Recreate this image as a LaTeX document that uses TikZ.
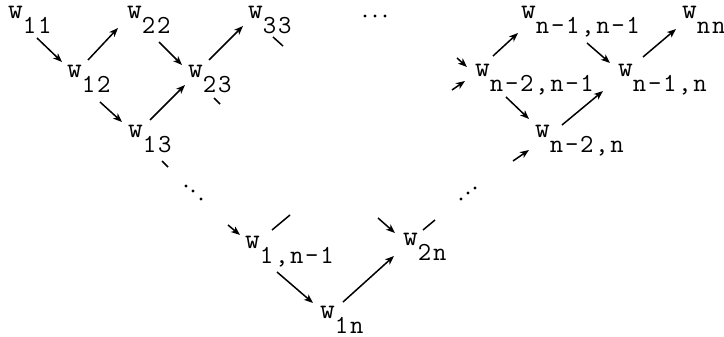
\documentclass[tikz,border=0pt]{standalone}
\usepackage{fontspec}
\newfontfamily\tw[LetterSpace=6.5]{Latin Modern Mono}
\usetikzlibrary{arrows.meta}
\newcommand\wsub[1]{\scalebox{1.1}{w}\raisebox{-15pt}{#1}}
\begin{document}
\begin{tikzpicture}[x=1pt,y=-1pt,
  lab/.style={anchor=base west,inner sep=0pt,font=\fontsize{26}{30}\selectfont\tw},
  arr/.style={line width=1.5pt,-{Stealth[length=9pt,width=7pt,inset=2.5pt]}},
  stub/.style={line width=1.5pt},
  dot/.style={circle,fill,inner sep=0pt,minimum size=3.2pt}]
\useasboundingbox (0,0) rectangle (724,337);
% nodes
\node[lab] (w11) at (8,19) {\wsub{11}};
\node[lab] (w12) at (67,78) {\wsub{12}};
\node[lab] (w22) at (127,19) {\wsub{22}};
\node[lab] (w23) at (188,78) {\wsub{23}};
\node[lab] (w13) at (128,138) {\wsub{13}};
\node[lab] (w33) at (248,19) {\wsub{33}};
\node[lab] (wa) at (521,19) {\wsub{n-1,n-1}};
\node[lab] (wnn) at (682,19) {\wsub{nn}};
\node[lab] (wb) at (475,77) {\wsub{n-2,n-1}};
\node[lab] (wc) at (618,77) {\wsub{n-1,n}};
\node[lab] (wd) at (535,138) {\wsub{n-2,n}};
\node[lab] (we) at (245,248) {\wsub{1,n-1}};
\node[lab] (w1n) at (320,318) {\wsub{1n}};
\node[lab] (w2n) at (403,245) {\wsub{2n}};
% dots
\node[dot] (t1) at (365,16) {};
\node[dot] (t2) at (375,16) {};
\node[dot] (t3) at (385,16) {};
\node[dot] (l1) at (186,186) {};
\node[dot] (l2) at (193,191) {};
\node[dot] (l3) at (201,199) {};
\node[dot] (r1) at (461,199) {};
\node[dot] (r2) at (468,193) {};
\node[dot] (r3) at (475,188) {};
% arrows
\draw[arr] ([shift={(29,19)}]w11.base west) -- ([shift={(-5,-16)}]w12.base west);
\draw[arr] ([shift={(21,-18)}]w12.base west) -- ([shift={(-9,9)}]w22.base west);
\draw[arr] ([shift={(32,23)}]w22.base west) -- ([shift={(-6,-13)}]w23.base west);
\draw[arr] ([shift={(33,24)}]w12.base west) -- ([shift={(-6,-16)}]w13.base west);
\draw[arr] ([shift={(22,-18)}]w13.base west) -- ([shift={(-3,7)}]w23.base west);
\draw[arr] ([shift={(21,-18)}]w23.base west) -- ([shift={(-5,7)}]w33.base west);
\draw[stub] ([shift={(25,18)}]w33.base west) -- ([shift={(35,27)}]w33.base west);
\draw[stub] ([shift={(26,20)}]w23.base west) -- ([shift={(32,26)}]w23.base west);
\draw[stub] ([shift={(34,23)}]w13.base west) -- ([shift={(40,29)}]w13.base west);
\draw[arr] ([shift={(-17,-23)}]we.base west) -- ([shift={(-5,-13)}]we.base west);
\draw[stub] ([shift={(27,-18)}]we.base west) -- ([shift={(45,-33)}]we.base west);
\draw[arr] ([shift={(32,24)}]we.base west) -- ([shift={(-7,-15)}]w1n.base west);
\draw[arr] ([shift={(23,-16)}]w1n.base west) -- ([shift={(-9,11)}]w2n.base west);
\draw[arr] ([shift={(-25,-27)}]w2n.base west) -- ([shift={(-8,-12)}]w2n.base west);
\draw[stub] ([shift={(20,-15)}]w2n.base west) -- ([shift={(32,-25)}]w2n.base west);
\draw[arr] ([shift={(-22,23)}]wd.base west) -- ([shift={(-6,12)}]wd.base west);
\draw[arr] ([shift={(31,20)}]wb.base west) -- ([shift={(-6,-19)}]wd.base west);
\draw[arr] ([shift={(27,-13)}]wd.base west) -- ([shift={(-15,14)}]wc.base west);
\draw[arr] ([shift={(-18,-19)}]wb.base west) -- ([shift={(-8,-10)}]wb.base west);
\draw[arr] ([shift={(-23,13)}]wb.base west) -- ([shift={(-10,4)}]wb.base west);
\draw[arr] ([shift={(18,-21)}]wb.base west) -- ([shift={(-3,14)}]wa.base west);
\draw[arr] ([shift={(66,24)}]wa.base west) -- ([shift={(-8,-14)}]wc.base west);
\draw[arr] ([shift={(25,-20)}]wc.base west) -- ([shift={(-6,10)}]wnn.base west);
\end{tikzpicture}
\end{document}
